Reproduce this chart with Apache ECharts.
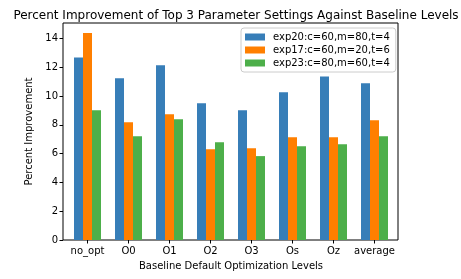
<!DOCTYPE html>
<html><head><meta charset="utf-8">
<script src="https://cdn.jsdelivr.net/npm/echarts@6/dist/echarts.min.js"></script>
<style>html,body{margin:0;padding:0;background:#fff}#c{width:461px;height:279px}</style>
</head><body><div id="c"></div>
<script>
const categories = ['no_opt','O0','O1','O2','O3','Os','Oz','average'];
const seriesNames = ['exp20:c=60,m=80,t=4','exp17:c=60,m=20,t=6','exp23:c=80,m=60,t=4'];
const exp20 = [12.69, 11.24, 12.14, 9.50, 9.02, 10.27, 11.37, 10.89];
const exp17 = [14.38, 8.18, 8.74, 6.31, 6.38, 7.14, 7.14, 8.32];
const exp23 = [9.02, 7.21, 8.39, 6.80, 5.83, 6.52, 6.65, 7.21];
const yTicks = [0, 2, 4, 6, 8, 10, 12, 14];
const yMax = 15.08;
const colors = ['#377eb8', '#ff7f00', '#4daf4a'];
const font = 'DejaVu Sans';

const chart = echarts.init(document.getElementById('c'), null, {renderer: 'canvas'});
const values = [exp20, exp17, exp23];
chart.setOption({
  animation: false,
  textStyle: {fontFamily: font, color: '#000'},
  title: {
    text: 'Percent Improvement of Top 3 Parameter Settings Against Baseline Levels',
    left: 231, top: 5, textAlign: 'center',
    textStyle: {fontFamily: font, fontSize: 12, fontWeight: 'normal', color: '#000'}
  },
  legend: {
    orient: 'vertical', left: 241, top: 28,
    itemWidth: 20, itemHeight: 7, itemGap: 3,
    padding: [4, 6, 4, 4],
    backgroundColor: 'rgba(255,255,255,0.8)',
    borderColor: '#cccccc', borderWidth: 1, borderRadius: 3,
    textStyle: {fontFamily: font, fontSize: 10, color: '#000', padding: [0,0,0,3]},
    icon: 'rect',
    data: seriesNames
  },
  grid: [
    {left: 63, right: 63, top: 23, bottom: 39, show: true, borderColor: '#000', borderWidth: 1, backgroundColor: 'transparent'},
    {left: 67, width: 328, top: 23, bottom: 39}
  ],
  xAxis: [
    {gridIndex: 0, type: 'value', show: false, min: 0, max: 1},
    {gridIndex: 1, type: 'category', data: categories,
     axisLine: {show: false},
     axisTick: {show: true, alignWithLabel: true, interval: 0, length: 3.5, lineStyle: {color: '#000'}},
     axisLabel: {fontFamily: font, fontSize: 10, color: '#000', margin: 6, interval: 0},
     name: 'Baseline Default Optimization Levels', nameLocation: 'middle', nameGap: 21,
     nameTextStyle: {fontFamily: font, fontSize: 10, color: '#000'}}
  ],
  yAxis: [
    {gridIndex: 0, type: 'value', min: 0, max: yMax, interval: 2,
     axisLine: {show: false},
     axisTick: {show: true, length: 3.5, lineStyle: {color: '#000'}, customValues: yTicks},
     axisLabel: {fontFamily: font, fontSize: 10, color: '#000', margin: 5, customValues: yTicks},
     splitLine: {show: false},
     name: 'Percent Improvement', nameLocation: 'middle', nameGap: 22, nameRotate: 90,
     nameTextStyle: {fontFamily: font, fontSize: 10, color: '#000'}},
    {gridIndex: 1, type: 'value', min: 0, max: yMax, show: false, splitLine: {show: false}}
  ],
  series: seriesNames.map((n, i) => ({
    name: n, type: 'bar', xAxisIndex: 1, yAxisIndex: 1,
    data: values[i], barWidth: 9, barGap: '0%',
    itemStyle: {color: colors[i]}
  }))
});
</script></body></html>
